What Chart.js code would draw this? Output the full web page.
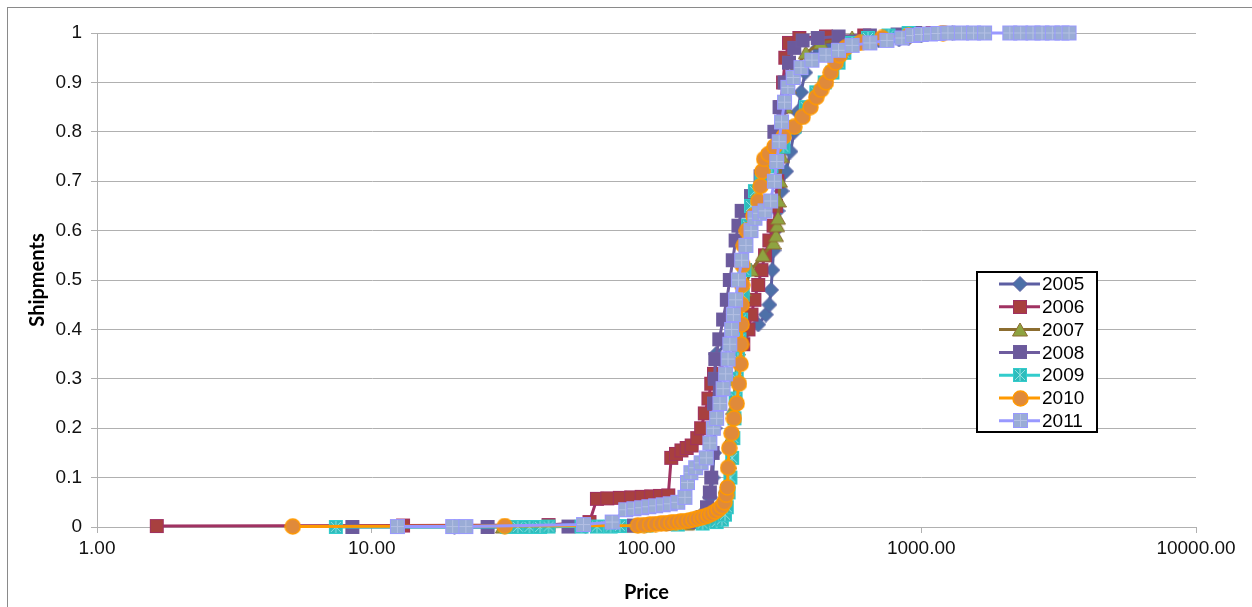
<!DOCTYPE html>
<html>
<head>
<meta charset="utf-8">
<title>Shipments by price</title>
<script src="https://cdn.jsdelivr.net/npm/chart.js@4.4.0/dist/chart.umd.min.js"></script>
<style>
  html, body { margin: 0; padding: 0; background: #fff; }
  #wrap { position: relative; width: 1252px; height: 607px; overflow: hidden; }
</style>
</head>
<body>
<div id="wrap"><canvas id="chart" width="1252" height="607"></canvas></div>
<script>
// cumulative share of shipments vs unit price, one array of [price, share] per year
const years = ['2005', '2006', '2007', '2008', '2009', '2010', '2011'];

const s2005 = [[20, 0.0], [60, 0.002], [100, 0.004], [130, 0.008], [150, 0.015], [162, 0.03], [170, 0.06],
  [174, 0.1], [176, 0.15], [177, 0.2], [178, 0.25], [178, 0.3], [179, 0.35], [195, 0.37], [225, 0.39],
  [255, 0.41], [272, 0.43], [280, 0.45], [284, 0.48], [287, 0.52], [290, 0.56], [294, 0.6], [300, 0.64],
  [310, 0.68], [322, 0.72], [334, 0.76], [345, 0.8], [355, 0.84], [365, 0.88], [378, 0.92], [395, 0.95],
  [420, 0.97], [460, 0.98], [560, 0.983], [700, 0.985], [830, 0.987], [900, 0.99], [1000, 0.995], [1300, 1.0]];

const s2006 = [[1.65, 0.002], [13.0, 0.003], [44, 0.004], [62, 0.01], [66, 0.057], [72, 0.058], [80, 0.059],
  [88, 0.06], [96, 0.061], [104, 0.062], [112, 0.063], [120, 0.064], [123, 0.14], [128, 0.148], [134, 0.155],
  [140, 0.16], [146, 0.165], [153, 0.18], [158, 0.2], [163, 0.23], [168, 0.26], [172, 0.29], [176, 0.31],
  [200, 0.34], [225, 0.37], [235, 0.4], [241, 0.43], [247, 0.46], [255, 0.49], [262, 0.52], [270, 0.55],
  [280, 0.58], [290, 0.61], [296, 0.65], [299, 0.7], [302, 0.75], [305, 0.8], [308, 0.85], [314, 0.9],
  [320, 0.95], [330, 0.98], [360, 0.99], [450, 0.993], [620, 0.995], [900, 0.997], [1100, 1.0]];

const s2007 = [[30, 0.0], [90, 0.002], [140, 0.006], [175, 0.015], [188, 0.04], [194, 0.08], [199, 0.13],
  [203, 0.18], [207, 0.24], [211, 0.3], [215, 0.36], [220, 0.42], [226, 0.48], [240, 0.52], [265, 0.55],
  [290, 0.575], [296, 0.59], [299, 0.61], [301, 0.625], [303, 0.66], [306, 0.7], [310, 0.75], [314, 0.8],
  [320, 0.85], [330, 0.89], [350, 0.93], [380, 0.96], [430, 0.98], [560, 0.99], [800, 0.995], [1000, 1.0]];

const s2008 = [[8.5, 0.0], [26.4, 0.0], [52, 0.001], [90, 0.003], [120, 0.006], [145, 0.01], [160, 0.02],
  [166, 0.04], [170, 0.07], [172, 0.1], [174, 0.15], [175, 0.2], [176, 0.25], [177, 0.3], [178, 0.34],
  [184, 0.38], [190, 0.42], [196, 0.46], [201, 0.5], [206, 0.54], [211, 0.58], [216, 0.61], [222, 0.64],
  [240, 0.67], [260, 0.71], [278, 0.75], [292, 0.8], [305, 0.85], [318, 0.9], [330, 0.94], [345, 0.97],
  [370, 0.985], [420, 0.99], [500, 0.993], [650, 0.995], [820, 0.997], [950, 1.0]];

const s2009 = [[7.4, 0.0], [31, 0.0], [34, 0.0], [37.5, 0.0], [41, 0.0], [44, 0.001], [58, 0.001], [66, 0.001],
  [74, 0.001], [80, 0.002], [100, 0.003], [130, 0.005], [160, 0.007], [180, 0.01], [188, 0.015], [193, 0.025],
  [196, 0.04], [199, 0.07], [202, 0.1], [205, 0.14], [207, 0.18], [209, 0.22], [211, 0.26], [213, 0.3],
  [215, 0.34], [218, 0.38], [221, 0.42], [224, 0.47], [227, 0.52], [230, 0.57], [234, 0.61], [240, 0.65],
  [248, 0.68], [262, 0.7], [285, 0.73], [315, 0.77], [345, 0.81], [380, 0.85], [415, 0.88], [445, 0.9],
  [475, 0.92], [500, 0.94], [525, 0.96], [560, 0.98], [640, 0.99], [760, 0.995], [900, 1.0]];

const s2010 = [[5.16, 0.001], [30.5, 0.002], [93, 0.003], [98, 0.004], [103, 0.005], [108, 0.006], [113, 0.007],
  [118, 0.008], [123, 0.009], [128, 0.01], [133, 0.011], [138, 0.012], [143, 0.013], [148, 0.015], [153, 0.017],
  [158, 0.019], [163, 0.021], [168, 0.024], [173, 0.027], [178, 0.031], [183, 0.036], [188, 0.042], [192, 0.05],
  [195, 0.065], [197, 0.08], [198, 0.12], [200, 0.16], [204, 0.19], [208, 0.22], [213, 0.25], [217, 0.29],
  [220, 0.33], [221, 0.37], [222, 0.41], [222, 0.45], [223, 0.49], [224, 0.53], [226, 0.57], [232, 0.6],
  [245, 0.63], [255, 0.66], [260, 0.69], [264, 0.72], [268, 0.745], [278, 0.755], [292, 0.77], [315, 0.79],
  [345, 0.81], [370, 0.83], [395, 0.85], [415, 0.87], [432, 0.885], [450, 0.9], [468, 0.92], [488, 0.94],
  [505, 0.955], [530, 0.97], [600, 0.98], [720, 0.99], [900, 0.995], [1200, 1.0]];

const s2011 = [[12.4, 0.001], [19.7, 0.001], [22, 0.001], [59, 0.005], [75, 0.01], [84, 0.035], [90, 0.037],
  [96, 0.039], [102, 0.041], [108, 0.043], [115, 0.045], [122, 0.047], [130, 0.05], [138, 0.06], [141, 0.09],
  [145, 0.11], [151, 0.12], [158, 0.13], [165, 0.14], [170, 0.17], [175, 0.2], [180, 0.22], [185, 0.25],
  [190, 0.28], [194, 0.31], [198, 0.34], [201, 0.37], [204, 0.4], [207, 0.43], [211, 0.46], [216, 0.5],
  [222, 0.54], [230, 0.57], [240, 0.6], [248, 0.625], [258, 0.635], [270, 0.64], [283, 0.66], [292, 0.7],
  [298, 0.74], [304, 0.78], [310, 0.82], [318, 0.86], [327, 0.89], [342, 0.91], [365, 0.93], [400, 0.945],
  [450, 0.955], [500, 0.965], [560, 0.975], [650, 0.98], [750, 0.985], [850, 0.99], [930, 0.995], [1000, 0.997],
  [1080, 0.998], [1150, 0.999], [1250, 1.0], [1400, 1.0], [1550, 1.0], [1700, 1.0], [2100, 1.0], [2300, 1.0],
  [2550, 1.0], [2750, 1.0], [3000, 1.0], [3250, 1.0], [3450, 1.0]];

const xTicks = [1, 10, 100, 1000, 10000];

const series = [s2005, s2006, s2007, s2008, s2009, s2010, s2011];
const lineColors = ['#5c5ea2', '#a03262', '#8c6d30', '#6e5c9e', '#33cccc', '#ff9900', '#9999ff'];
const markerFills = ['#4d70a8', '#a8403f', '#8ea340', '#6b5a9c', '#2fbcbc', '#e08a3a', '#9aacd6'];
const markerKinds = ['diamond', 'square', 'triangle', 'square', 'xsquare', 'circle', 'psquare'];

// excel style markers painted into small canvases
function makeMarker(kind, fill, stroke) {
  const size = kind === 'circle' || kind === 'psquare' ? 17 : 16;
  const c = document.createElement('canvas');
  c.width = size;
  c.height = size;
  const g = c.getContext('2d');
  const m = size / 2;
  g.fillStyle = fill;
  g.strokeStyle = stroke;
  g.lineWidth = 1;
  if (kind === 'diamond') {
    g.beginPath();
    g.moveTo(m, 0.5); g.lineTo(size - 0.5, m); g.lineTo(m, size - 0.5); g.lineTo(0.5, m);
    g.closePath(); g.fill(); g.stroke();
  } else if (kind === 'triangle') {
    g.beginPath();
    g.moveTo(m, 1); g.lineTo(size - 0.5, size - 2); g.lineTo(0.5, size - 2);
    g.closePath(); g.fill(); g.stroke();
  } else if (kind === 'circle') {
    g.beginPath();
    g.arc(m, m, m - 1, 0, Math.PI * 2);
    g.fill();
    g.lineWidth = 1.5;
    g.stroke();
  } else {
    g.fillRect(1, 1, size - 2, size - 2);
    g.strokeRect(1.5, 1.5, size - 3, size - 3);
    if (kind === 'xsquare') {
      g.strokeStyle = '#8fe0e0';
      g.beginPath();
      g.moveTo(3, 3); g.lineTo(size - 3, size - 3);
      g.moveTo(size - 3, 3); g.lineTo(3, size - 3);
      g.moveTo(m, 2); g.lineTo(m, size - 2);
      g.stroke();
    } else if (kind === 'psquare') {
      g.strokeStyle = '#b4c0e4';
      g.beginPath();
      g.moveTo(m, 2); g.lineTo(m, size - 2);
      g.moveTo(2, m); g.lineTo(size - 2, m);
      g.stroke();
    }
  }
  return c;
}

const markers = markerKinds.map((k, i) => makeMarker(k, markerFills[i], i === 5 ? '#ff9900' : lineColors[i]));

const datasets = series.map((pts, i) => ({
  label: years[i],
  data: pts.map(p => ({ x: p[0], y: p[1] })),
  borderColor: lineColors[i],
  backgroundColor: markerFills[i],
  borderWidth: 3,
  pointStyle: markers[i],
  pointRadius: 7,
  tension: 0,
  clip: false,
  order: 7 - i
}));

const framePlugin = {
  id: 'frame',
  beforeDraw(chart) {
    const c = chart.ctx;
    c.save();
    c.fillStyle = '#fff';
    c.fillRect(0, 0, chart.width, chart.height);
    c.strokeStyle = '#8a8a8a';
    c.lineWidth = 1;
    c.strokeRect(7.5, 7.5, chart.width + 20, chart.height + 20);
    c.restore();
  }
};

const boxLegend = {
  id: 'boxLegend',
  afterDraw(chart) {
    const c = chart.ctx;
    const left = 977, top = 272, w = 120, h = 160;
    c.save();
    c.fillStyle = '#fff';
    c.fillRect(left, top, w, h);
    c.strokeStyle = '#000';
    c.lineWidth = 2;
    c.strokeRect(left, top, w, h);
    c.font = '19px "Liberation Sans", Arial, sans-serif';
    c.textBaseline = 'middle';
    chart.data.datasets.forEach((ds, i) => {
      const y = top + 12 + i * 22.8;
      c.strokeStyle = ds.borderColor;
      c.lineWidth = 3;
      c.beginPath();
      c.moveTo(999, y);
      c.lineTo(1040, y);
      c.stroke();
      const mk = ds.pointStyle;
      c.drawImage(mk, Math.round(1020 - mk.width / 2), Math.round(y - mk.height / 2));
      c.fillStyle = '#000';
      c.fillText(ds.label, 1042, y + 1);
    });
    c.restore();
  }
};

new Chart(document.getElementById('chart'), {
  type: 'line',
  data: { datasets },
  plugins: [framePlugin, boxLegend],
  options: {
    responsive: false,
    animation: false,
    events: [],
    layout: { padding: { left: 26, right: 56, top: 33, bottom: 0 } },
    plugins: { legend: { display: false }, tooltip: { enabled: false } },
    scales: {
      x: {
        type: 'logarithmic',
        min: 1,
        max: 10000,
        afterBuildTicks: scale => { scale.ticks = xTicks.map(v => ({ value: v })); },
        afterFit: scale => { scale.height = 80; },
        ticks: {
          autoSkip: false,
          maxRotation: 0,
          padding: 4,
          color: '#111',
          font: { family: '"Liberation Sans", Arial, sans-serif', size: 19 },
          callback: v => Number(v).toFixed(2)
        },
        grid: { drawOnChartArea: false, drawTicks: true, tickLength: 6, color: '#b0b0b0' },
        border: { color: '#b0b0b0' },
        title: {
          display: true,
          text: 'Price',
          color: '#000',
          padding: { top: 0, bottom: 2 },
          font: { family: 'Lato, "Open Sans", sans-serif', size: 20, weight: 'bold' }
        }
      },
      y: {
        min: 0,
        max: 1,
        afterFit: scale => { scale.width = 71; },
        ticks: {
          stepSize: 0.1,
          padding: 9,
          color: '#111',
          font: { family: '"Liberation Sans", Arial, sans-serif', size: 19 },
          callback: v => String(Number(v.toFixed(1)))
        },
        grid: { color: '#b0b0b0', lineWidth: 1, tickLength: 6 },
        border: { color: '#b0b0b0' },
        title: {
          display: true,
          text: 'Shipments',
          color: '#000',
          padding: { top: 0, bottom: 0 },
          font: { family: 'Lato, "Open Sans", sans-serif', size: 20, weight: 'bold' }
        }
      }
    }
  }
});
</script>
</body>
</html>
